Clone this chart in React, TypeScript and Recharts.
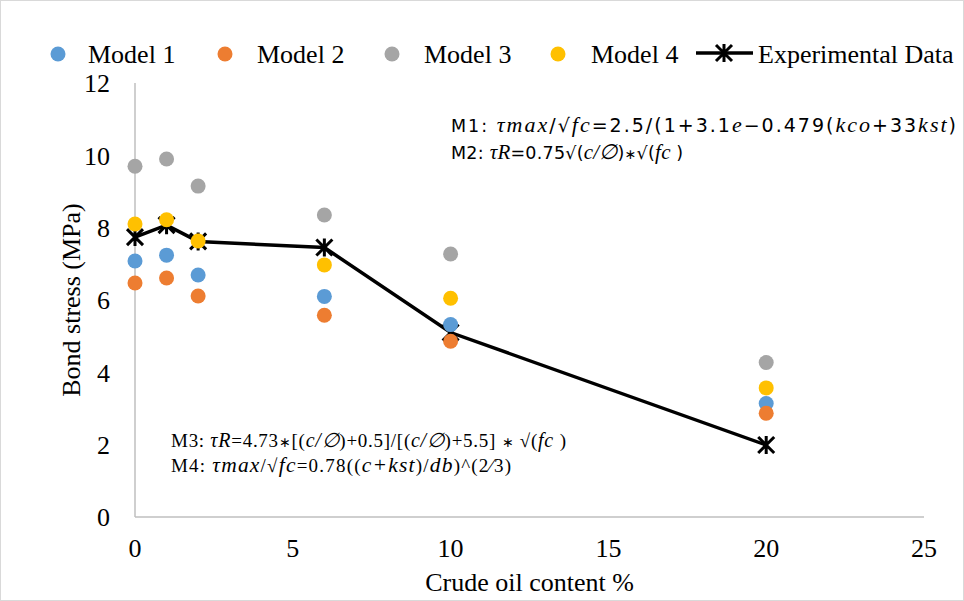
import React from 'react';
import { ScatterChart, Scatter, XAxis, YAxis, Label } from 'recharts';

// crude oil content (%) for each specimen group
const oilContent = [0, 1, 2, 6, 10, 20];

// bond stress, MPa
const model1 = [7.08, 7.24, 6.69, 6.1, 5.32, 3.14];
const model2 = [6.47, 6.61, 6.11, 5.58, 4.86, 2.87];
const model3 = [9.7, 9.9, 9.15, 8.35, 7.27, 4.27];
const model4 = [8.1, 8.22, 7.63, 6.97, 6.05, 3.57];
const experimental = [7.74, 8.07, 7.62, 7.45, 5.1, 1.99];

const xTicks = [0, 5, 10, 15, 20, 25];
const yTicks = [0, 2, 4, 6, 8, 10, 12];

const COLORS = {
  m1: '#5b9bd5',
  m2: '#ed7d31',
  m3: '#a5a5a5',
  m4: '#ffc000',
  exp: '#000000',
  axis: '#bfbfbf',
  border: '#d9d9d9',
};

const SERIF = '"Liberation Serif", "Times New Roman", serif';
const SANS = '"DejaVu Sans", Verdana, sans-serif';

const W = 964;
const H = 601;

function toPoints(ys: number[]) {
  return oilContent.map((x, i) => ({ x, y: ys[i] }));
}

function dot(color: string) {
  return (p: any) => <circle cx={p.cx} cy={p.cy} r={7.5} fill={color} />;
}

function StarMark(p: any) {
  const { cx, cy } = p;
  const d = 8;
  return (
    <path
      d={`M${cx - d},${cy - d}L${cx + d},${cy + d}M${cx + d},${cy - d}L${cx - d},${cy + d}M${cx},${cy - d - 1}L${cx},${cy + d + 1}`}
      stroke={COLORS.exp}
      strokeWidth={3}
      fill="none"
    />
  );
}

function XTitle(props: any) {
  const vb = props.viewBox || {};
  const cx = (vb.x ?? 134) + (vb.width ?? 789) / 2;
  return (
    <text x={cx} y={590} textAnchor="middle" fontFamily={SERIF} fontSize={26} fill="#000">
      Crude oil content %
    </text>
  );
}

function YTitle(props: any) {
  const vb = props.viewBox || {};
  const cy = (vb.y ?? 82) + (vb.height ?? 434) / 2;
  const cx = 70;
  return (
    <text
      x={cx}
      y={cy}
      transform={`rotate(-90 ${cx} ${cy})`}
      textAnchor="middle"
      dominantBaseline="central"
      fontFamily={SERIF}
      fontSize={26}
      fill="#000"
    >
      Bond stress (MPa)
    </text>
  );
}

const legendItems = [
  { label: 'Model 1', color: COLORS.m1, dotX: 57, textX: 87 },
  { label: 'Model 2', color: COLORS.m2, dotX: 224, textX: 256 },
  { label: 'Model 3', color: COLORS.m3, dotX: 391, textX: 423 },
  { label: 'Model 4', color: COLORS.m4, dotX: 557, textX: 590 },
];

function Overlay() {
  const it = { fontStyle: 'italic', fontFamily: SERIF } as const;
  const op = { fontSize: 14 };
  return (
    <svg width={W} height={H} style={{ position: 'absolute', left: 0, top: 0, pointerEvents: 'none' }}>
      {/* legend */}
      {legendItems.map((l) => (
        <g key={l.label}>
          <circle cx={l.dotX} cy={53} r={7.5} fill={l.color} />
          <text x={l.textX} y={62} fontFamily={SERIF} fontSize={26} fill="#000">
            {l.label}
          </text>
        </g>
      ))}
      <line x1={695} y1={52} x2={752} y2={52} stroke="#000" strokeWidth={3.5} />
      <StarMark cx={723} cy={52} />
      <text x={757} y={62} fontFamily={SERIF} fontSize={26} fill="#000">
        Experimental Data
      </text>

      {/* model equations */}
      <text x={450} y={131} fontFamily={SANS} fontSize={19} fill="#000" xmlSpace="preserve" textLength={505} lengthAdjust="spacing">
        <tspan fontSize={17.5}>M1: </tspan>
        <tspan {...it} fontSize={22}>τmax</tspan>
        <tspan>/√</tspan>
        <tspan {...it} fontSize={22}>fc</tspan>
        <tspan>=2.5/(1+3.1</tspan>
        <tspan {...it} fontSize={22}>e</tspan>
        <tspan>−0.479(</tspan>
        <tspan {...it} fontSize={22}>kco</tspan>
        <tspan>+33</tspan>
        <tspan {...it} fontSize={22}>kst</tspan>
        <tspan>)</tspan>
      </text>
      <text x={450} y={158} fontFamily={SANS} fontSize={17.5} fill="#000" xmlSpace="preserve" textLength={232} lengthAdjust="spacing">
        <tspan>M2: </tspan>
        <tspan {...it} fontSize={21}>τR</tspan>
        <tspan>=0.75√(</tspan>
        <tspan {...it} fontSize={21}>c/∅</tspan>
        <tspan>)</tspan>
        <tspan {...op}>∗</tspan>
        <tspan>√(</tspan>
        <tspan {...it} fontSize={21}>fc </tspan>
        <tspan>)</tspan>
      </text>

      <text x={170} y={446} fontFamily={SERIF} fontSize={19} fill="#000" xmlSpace="preserve" textLength={395} lengthAdjust="spacing">
        <tspan>M3: </tspan>
        <tspan {...it} fontSize={20}>τR</tspan>
        <tspan>=4.73</tspan>
        <tspan {...op}>∗</tspan>
        <tspan>[(</tspan>
        <tspan {...it} fontSize={20}>c/∅</tspan>
        <tspan>)+0.5]/[(</tspan>
        <tspan {...it} fontSize={20}>c/∅</tspan>
        <tspan>)+5.5] </tspan>
        <tspan {...op}>∗</tspan>
        <tspan> √(</tspan>
        <tspan {...it} fontSize={20}>fc </tspan>
        <tspan>)</tspan>
      </text>
      <text x={170} y={471} fontFamily={SERIF} fontSize={19} fill="#000" xmlSpace="preserve" textLength={340} lengthAdjust="spacing">
        <tspan>M4: </tspan>
        <tspan {...it} fontSize={21.5}>τmax</tspan>
        <tspan>/√</tspan>
        <tspan {...it} fontSize={21.5}>fc</tspan>
        <tspan>=0.78((</tspan>
        <tspan {...it} fontSize={21.5}>c+kst</tspan>
        <tspan>)/</tspan>
        <tspan {...it} fontSize={21.5}>db</tspan>
        <tspan>)^(2⁄3)</tspan>
      </text>
    </svg>
  );
}

export default function App() {
  const tickStyle = { fill: '#000', fontSize: 26, fontFamily: SERIF };
  return (
    <div
      style={{
        position: 'fixed',
        left: 0,
        top: 0,
        width: W,
        height: H,
        background: '#fff',
        boxSizing: 'border-box',
        border: `1px solid ${COLORS.border}`,
      }}
    >
      <ScatterChart width={W} height={H} margin={{ top: 82, right: 41, bottom: 25, left: 70 }}>
        <XAxis
          type="number"
          dataKey="x"
          domain={[0, 25]}
          ticks={xTicks}
          interval={0}
          axisLine={{ stroke: COLORS.axis, strokeWidth: 1.5 }}
          tickLine={false}
          tickSize={0}
          tickMargin={22}
          tick={tickStyle}
          height={60}
        >
          <Label content={<XTitle />} />
        </XAxis>
        <YAxis
          type="number"
          dataKey="y"
          domain={[0, 12]}
          ticks={yTicks}
          interval={0}
          axisLine={{ stroke: COLORS.axis, strokeWidth: 1.5 }}
          tickLine={false}
          tickSize={0}
          tickMargin={25}
          tick={tickStyle}
          width={64}
        >
          <Label content={<YTitle />} />
        </YAxis>
        <Scatter
          name="Experimental Data"
          data={toPoints(experimental)}
          line={{ stroke: COLORS.exp, strokeWidth: 3.5 }}
          lineType="joint"
          shape={<StarMark />}
          isAnimationActive={false}
        />
        <Scatter name="Model 1" data={toPoints(model1)} shape={dot(COLORS.m1)} isAnimationActive={false} />
        <Scatter name="Model 2" data={toPoints(model2)} shape={dot(COLORS.m2)} isAnimationActive={false} />
        <Scatter name="Model 3" data={toPoints(model3)} shape={dot(COLORS.m3)} isAnimationActive={false} />
        <Scatter name="Model 4" data={toPoints(model4)} shape={dot(COLORS.m4)} isAnimationActive={false} />
      </ScatterChart>
      <Overlay />
    </div>
  );
}
